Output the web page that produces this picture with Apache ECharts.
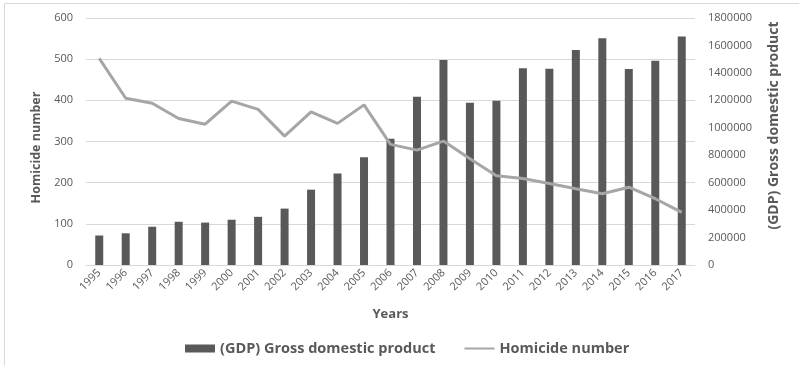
<!DOCTYPE html>
<html>
<head>
<meta charset="utf-8">
<script src="https://cdn.jsdelivr.net/npm/echarts@6/dist/echarts.min.js"></script>
<style>
  body { margin: 0; background: #fff; }
  #main { width: 799px; height: 366px; }
</style>
</head>
<body>
<div id="main"></div>
<script>
var years = ['1995', '1996', '1997', '1998', '1999', '2000', '2001', '2002', '2003', '2004', '2005', '2006',
  '2007', '2008', '2009', '2010', '2011', '2012', '2013', '2014', '2015', '2016', '2017'];
var gdp = [215000, 231000, 279000, 315000, 309000, 330000, 351000, 411000, 549000, 666000, 786000, 920000,
  1227000, 1494000, 1182000, 1197000, 1434000, 1431000, 1566000, 1653000, 1428000, 1488000, 1665000];
var homicide = [502, 405, 393, 356, 342, 398, 378, 313, 372, 344, 389, 293,
  279, 301, 258, 217, 210, 198, 185, 173, 189, 161, 128];

var txt = '#595959';
var myChart = echarts.init(document.getElementById('main'));
var option = {
  animation: false,
  textStyle: { fontFamily: 'Open Sans' },
  graphic: [{
    type: 'rect',
    shape: { x: 4.5, y: 3.5, width: 820, height: 400 },
    style: { fill: 'none', stroke: '#d9d9d9', lineWidth: 1 },
    silent: true
  }],
  grid: {
    left: 86,
    right: 104,
    top: 18,
    bottom: 101
  },
  legend: {
    bottom: 5,
    left: 180,
    itemGap: 28,
    itemWidth: 30,
    itemHeight: 8,
    textStyle: { color: txt, fontSize: 14.5, fontWeight: 'bold' },
    data: [
      { name: '(GDP) Gross domestic product', icon: 'rect' },
      { name: 'Homicide number', itemStyle: { opacity: 0 } }
    ]
  },
  xAxis: {
    type: 'category',
    data: years,
    name: 'Years',
    nameLocation: 'middle',
    nameGap: 43,
    nameTextStyle: { color: txt, fontSize: 13, fontWeight: 'bold' },
    axisLine: { lineStyle: { color: '#d9d9d9' } },
    axisTick: { show: false },
    axisLabel: { color: txt, fontSize: 11, rotate: 45, interval: 0, margin: 6 }
  },
  yAxis: [{
    type: 'value',
    min: 0,
    max: 600,
    interval: 100,
    name: 'Homicide number',
    nameLocation: 'middle',
    nameRotate: 90,
    nameGap: 42,
    nameTextStyle: { color: txt, fontSize: 12.5, fontWeight: 'bold', padding: [0, 12, 0, 0] },
    axisLabel: { color: txt, fontSize: 11, margin: 13 },
    splitLine: { lineStyle: { color: '#d9d9d9' } }
  }, {
    type: 'value',
    min: 0,
    max: 1800000,
    interval: 200000,
    position: 'right',
    name: '(GDP) Gross domestic product',
    nameLocation: 'middle',
    nameRotate: 90,
    nameGap: 72,
    nameTextStyle: { color: txt, fontSize: 14, fontWeight: 'bold', padding: [0, 0, 0, 32] },
    axisLabel: { color: txt, fontSize: 11, margin: 13, formatter: function (v) { return String(v); } },
    splitLine: { show: false }
  }],
  series: [{
    name: '(GDP) Gross domestic product',
    type: 'bar',
    yAxisIndex: 1,
    barWidth: 8,
    itemStyle: { color: '#595959' },
    data: gdp
  }, {
    name: 'Homicide number',
    type: 'line',
    yAxisIndex: 0,
    symbol: 'none',
    lineStyle: { color: '#a6a6a6', width: 3 },
    itemStyle: { color: '#a6a6a6' },
    data: homicide
  }]
};
myChart.setOption(option);
</script>
</body>
</html>
